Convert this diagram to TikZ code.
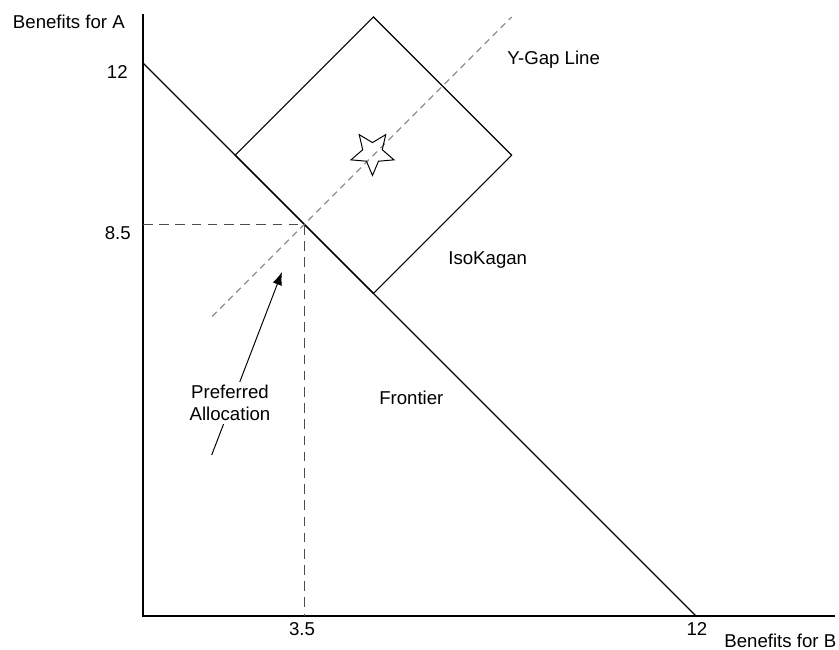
\documentclass[tikz,border=0pt]{standalone}
\usepackage{fontspec}
\setmainfont{Liberation Sans}
\usetikzlibrary{arrows.meta,shapes.geometric}

\begin{document}
\begin{tikzpicture}[x=1cm, y=1cm,
    axis/.style={line width=0.7pt},
    guide/.style={gray!60!black, line width=0.7pt, dash pattern=on 6pt off 4pt},
    gapline/.style={gray, line width=0.7pt, dash pattern=on 4pt off 3pt},
    lbl/.style={font=\fontsize{11.5}{13.4}\selectfont, inner sep=0pt}]
    \useasboundingbox (-3.103,-0.716) rectangle (15.104,13.368);

    % Axes and their labels
    \coordinate (O) at (0,0);
    \coordinate (ytop) at (0,13.06);
    \coordinate (xend) at (15.02,0);
    \draw[axis] (ytop) -- (O) -- (xend);
    \node[lbl, anchor=base west] (ylab) at (-2.828,12.754) {Benefits for A};
    \node[lbl, anchor=base west] (xlab) at (12.61,-0.673) {Benefits for B};
    \node[lbl, anchor=base east] (ytw) at (-0.326,11.654) {12};
    \node[lbl, anchor=base east] (yea) at (-0.26,8.16) {8.5};
    \node[lbl, anchor=base] (xtp) at (3.45,-0.412) {3.5};
    \node[lbl, anchor=base] (xtw) at (12.02,-0.412) {12};

    % Frontier
    \coordinate (fa) at (0,12);
    \coordinate (fb) at (12,0);
    \draw[axis] (fa) -- (fb);
    \node[lbl, anchor=base west] (front) at (5.12,4.60) {Frontier};

    % Preferred allocation and its dashed guides
    \coordinate (pref) at (3.5,8.5);
    \coordinate (pa) at (0,8.5);
    \coordinate (pb) at (3.5,0);
    \draw[guide] (pa) -- (pref) -- (pb);

    % === IsoKagan square ===
    \coordinate (sq1) at (2,10);
    \coordinate (sq2) at (5,13);
    \coordinate (sq3) at (8,10);
    \coordinate (sq4) at (5,7);
    \draw[axis] (sq1) -- (sq2) -- (sq3) -- (sq4) -- cycle;
    \node[lbl, anchor=base west] (iso) at (6.62,7.63) {IsoKagan};

    % === Y-Gap line ===
    \coordinate (ga) at (1.5,6.5);
    \coordinate (gb) at (8,13);
    \draw[gapline] (ga) -- (gb);
    \node[lbl, anchor=base west] (ygap) at (7.9,11.96) {Y-Gap Line};
    \node[star, star points=5, star point ratio=2.2, shape border rotate=180,
          minimum size=0.98cm, inner sep=0pt, draw, line width=0.6pt] (goal) at (4.98,10.05) {};

    % Arrow to the preferred allocation
    \coordinate (tail) at (1.491,3.494);
    \coordinate (tip) at (3.016,7.465);
    \draw[-{Latex[length=8pt,width=6pt]}, line width=0.6pt] (tail) -- (tip);
    \node[lbl, fill=white, inner sep=2pt, align=center] (palloc) at (1.888,4.62) {Preferred\\Allocation};

\end{tikzpicture}
\end{document}
